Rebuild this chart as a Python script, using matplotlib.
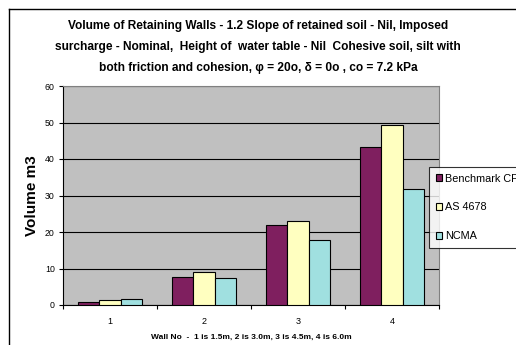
import numpy as np
import matplotlib
matplotlib.use("Agg")
import matplotlib.pyplot as plt
from matplotlib.lines import Line2D

plt.rcParams['font.family'] = ['Liberation Sans', 'DejaVu Sans']

walls = ['1', '2', '3', '4']
benchmark = [0.9, 7.8, 21.9, 43.2]
as4678 = [1.4, 9.1, 23.1, 49.3]
ncma = [1.65, 7.4, 17.9, 31.9]
series_names = ['Benchmark CP', 'AS 4678', 'NCMA']
colors = ['#7F1F5F', '#FFFFC0', '#A0E0E0']

title = ("Volume of Retaining Walls - 1.2 Slope of retained soil - Nil, Imposed\n"
         "surcharge - Nominal,  Height of  water table - Nil  Cohesive soil, silt with\n"
         "both friction and cohesion, \u03c6 = 20o, \u03b4 = 0o , co = 7.2 kPa")

W, H = 516, 345
fig = plt.figure(figsize=(W / 100, H / 100), dpi=100)
ax = fig.add_axes([63 / W, 1 - 305 / H, (439 - 63) / W, (305 - 86) / H])
ax.set_facecolor('#C0C0C0')

x = np.arange(1, len(walls) + 1)
w = 0.224
for k, vals in enumerate([benchmark, as4678, ncma]):
    ax.bar(x + (k - 1) * w, vals, w, color=colors[k], edgecolor='black',
           linewidth=0.8, label=series_names[k], zorder=3)

ax.set_xlim(0.5, 4.5)
ax.set_ylim(0, 60)
ax.set_yticks(range(0, 61, 10))
ax.yaxis.grid(True, color='black', linewidth=0.8, zorder=1)
ax.set_axisbelow(True)
ax.tick_params(axis='y', labelsize=6.3, length=3, width=0.8, pad=3)

ax.set_xticks(x)
ax.set_xticklabels(walls)
ax.set_xticks(np.arange(0.5, 4.6, 1.0), minor=True)
ax.tick_params(axis='x', which='major', length=0, labelsize=6.5, pad=9)
ax.tick_params(axis='x', which='minor', length=3, width=0.8)

for s in ['left', 'bottom']:
    ax.spines[s].set_color('black')
    ax.spines[s].set_linewidth(0.8)
for s in ['top', 'right']:
    ax.spines[s].set_color('#808080')
    ax.spines[s].set_linewidth(0.8)

ax.set_ylabel('Volume m3', fontsize=11, fontweight='bold', labelpad=4)
ax.set_xlabel('Wall No  -  1 is 1.5m, 2 is 3.0m, 3 is 4.5m, 4 is 6.0m',
              fontsize=6, fontweight='bold', labelpad=5)

fig.text(0.5, 1 - 47 / H, title, ha='center', va='center', fontsize=8.6,
         fontweight='bold', linespacing=1.95)

# chart frame: only left and top edges fall inside the image
fig.add_artist(Line2D([8.5 / W, 8.5 / W], [0, 1 - 8.5 / H], color='black',
                      linewidth=1.0, transform=fig.transFigure))
fig.add_artist(Line2D([8.5 / W, 1.0], [1 - 8.5 / H, 1 - 8.5 / H], color='black',
                      linewidth=1.0, transform=fig.transFigure))

# legend sits at the right edge of the chart frame, running past the image
leg = fig.legend(loc='upper left', bbox_to_anchor=(429 / W, 1 - 167 / H),
                 fontsize=7.8, frameon=True, fancybox=False, handlelength=0.6,
                 handleheight=0.6, handletextpad=0.25, labelspacing=1.75,
                 borderpad=0.6, borderaxespad=0)
leg.get_frame().set_edgecolor('black')
leg.get_frame().set_linewidth(0.8)

fig.savefig('out.png', dpi=100)
